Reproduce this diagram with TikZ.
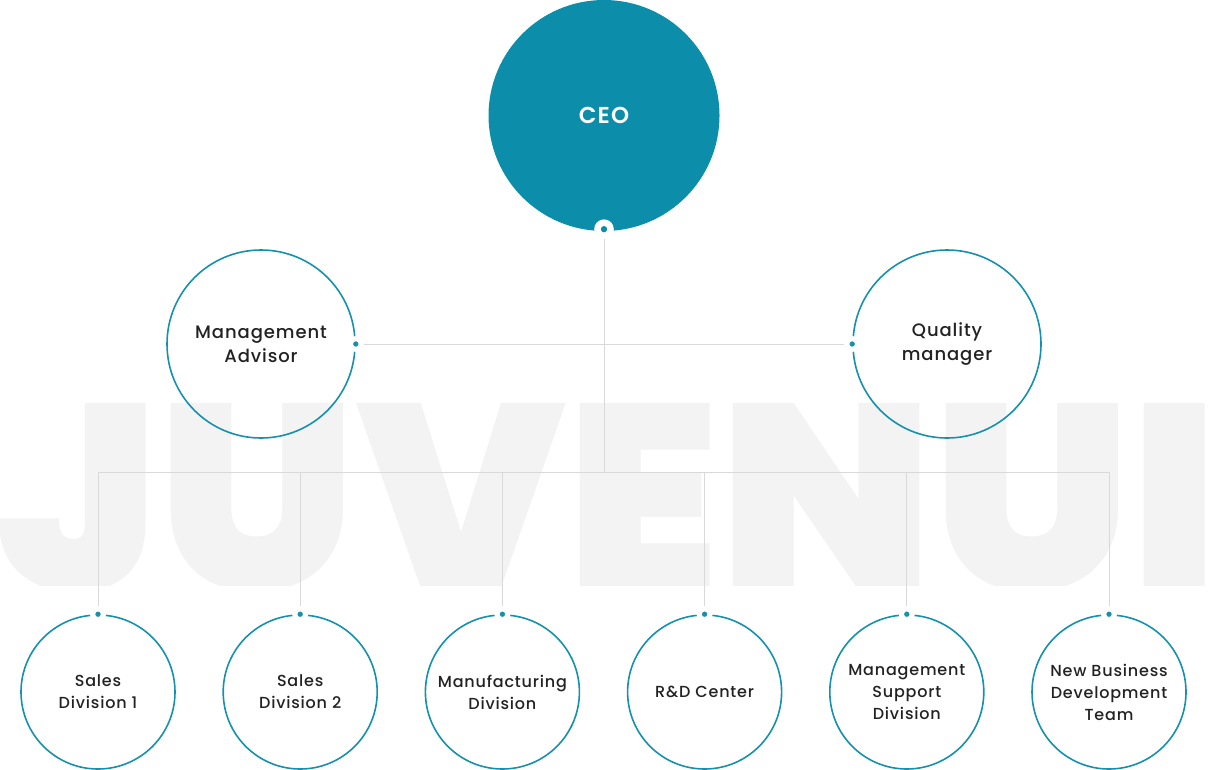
\documentclass[tikz,border=0pt]{standalone}
\usepackage{fontspec}
\setmainfont{Poppins Medium}[LetterSpace=5, BoldFont={Poppins SemiBold}]
\newfontfamily\markfont{Poppins Black}
\usepackage{graphicx}
\usepackage{tikz}
\usetikzlibrary{positioning}
\definecolor{ceoTeal}{HTML}{0C8EAB}
\definecolor{ringTeal}{HTML}{1591AD}
\definecolor{linkGray}{HTML}{D9D9D9}
\definecolor{markGray}{HTML}{F3F3F3}
\definecolor{labelInk}{HTML}{222222}
\tikzstyle{ceoNode}=[circle, fill=ceoTeal, minimum size=231pt, inner sep=0pt, text=white, font=\fontsize{23}{26}\selectfont\bfseries]
\tikzstyle{staffNode}=[circle, draw=ringTeal, line width=1.6pt, minimum size=188pt, inner sep=0pt, align=center, text=labelInk, font=\fontsize{18}{24}\selectfont]
\tikzstyle{unitNode}=[circle, draw=ringTeal, line width=1.6pt, minimum size=154pt, inner sep=0pt, align=center, text=labelInk, font=\fontsize{16}{22}\selectfont]
\tikzstyle{linkDot}=[circle, fill=ringTeal, draw=white, line width=5pt, minimum size=11pt, inner sep=0pt]
\tikzstyle{ceoDot}=[circle, fill=ceoTeal, draw=white, line width=6.5pt, minimum size=13pt, inner sep=0pt]
\tikzstyle{orgLink}=[draw=linkGray, line width=1pt]

\begin{document}
\begin{tikzpicture}[x=1pt, y=-1pt]
  \useasboundingbox (0,0) rectangle (1209,770);

  % watermark
  \begin{scope}
    \clip (0,0) rectangle (1209,585);
    \node[anchor=base, inner sep=0pt, text=markGray] (mark) at (608,590)
      {\resizebox{1220pt}{187pt}{\markfont JUVENUI}};
  \end{scope}

  % boxes
  \node[ceoNode] (ceo) at (604,115.5) {CEO};
  \node[staffNode] (advisor) at (261,344) {Management\\Advisor};
  \node[staffNode] (quality) at (947,344) {Quality\\manager};

  \foreach \i/\x/\txt in {1/98/{Sales\\Division 1},
                          2/300.2/{Sales\\Division 2},
                          3/502.4/{Manufacturing\\Division},
                          4/704.6/{R\&D Center},
                          5/906.8/{Management\\Support\\Division},
                          6/1109/{New Business\\Development\\Team}}
    \node[unitNode] (u\i) at (\x,692) {\txt};

  % pins and bus
  \coordinate (ceoPin) at ([yshift=2pt]ceo.south);
  \coordinate (advPin) at (advisor.east);
  \coordinate (qualPin) at (quality.west);
  \coordinate (busMid) at (ceo.south |- 0,472);
  \coordinate (busL) at (u1.north |- busMid);
  \coordinate (busR) at (u6.north |- busMid);

  \draw[orgLink] (ceoPin) -- (busMid);
  \draw[orgLink, shorten <=5pt, shorten >=5pt] (advPin) -- (qualPin);
  \draw[orgLink] (busL) -- (busR);
  \foreach \i in {1,...,6}
    \draw[orgLink, shorten >=1pt] (u\i.north |- busMid) -- (u\i.north);

  % dots
  \node[ceoDot] at (ceoPin) {};
  \node[linkDot] at (advPin) {};
  \node[linkDot] at (qualPin) {};
  \foreach \i in {1,...,6}
    \node[linkDot] at (u\i.north) {};
\end{tikzpicture}
\end{document}
